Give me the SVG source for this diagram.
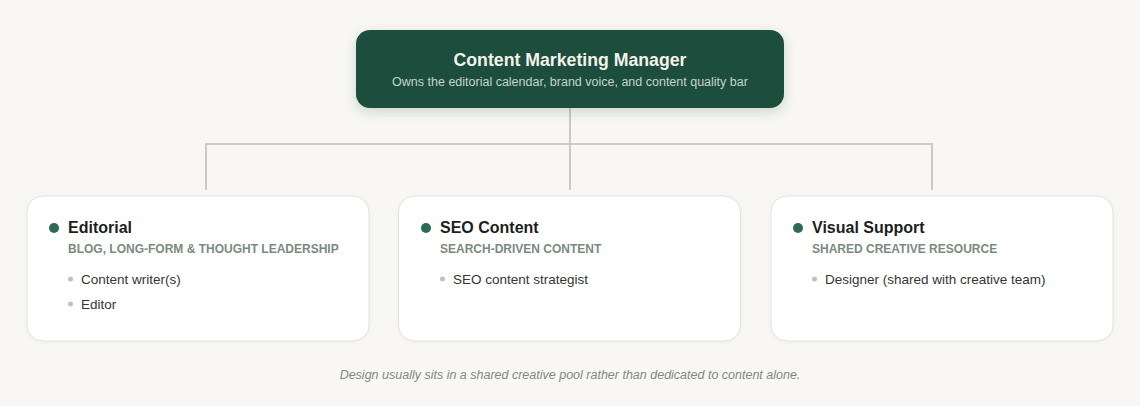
<svg xmlns="http://www.w3.org/2000/svg" width="1140" height="406" viewBox="0 0 1140 406">
<style>
.bg{fill:#f8f7f3}
.card{fill:#ffffff;stroke:#e2e2dc;stroke-width:1}
.conn{fill:none;stroke:#cacbc5;stroke-width:2}
.dot{fill:#2e6a55}
.bul{fill:#c2c2bd}
.t{font-family:"Liberation Sans",Arial,sans-serif;font-weight:bold;font-size:16px;fill:#1c1f1d}
.st{font-family:"Liberation Sans",Arial,sans-serif;font-weight:bold;font-size:12px;fill:#7b8a80}
.it{font-family:"Liberation Sans",Arial,sans-serif;font-size:13.5px;fill:#333633}
.mt{font-family:"Liberation Sans",Arial,sans-serif;font-weight:bold;font-size:17.7px;fill:#f4f2ea}
.ms{font-family:"Liberation Sans",Arial,sans-serif;font-size:12.5px;fill:#c6d4ca}
.ft{font-family:"Liberation Sans",Arial,sans-serif;font-style:italic;font-size:12.5px;fill:#808a82}
</style>
<defs>
<filter id="sh" x="-20%" y="-30%" width="140%" height="180%">
<feDropShadow dx="0" dy="4" stdDeviation="6" flood-color="#1f4d3d" flood-opacity="0.2"/>
</filter>
<filter id="csh" x="-10%" y="-10%" width="120%" height="130%">
<feDropShadow dx="0" dy="1" stdDeviation="2" flood-color="#000" flood-opacity="0.04"/>
</filter>
</defs>
<rect class="bg" x="0" y="0" width="1140" height="406"/>
<g id="connectors">
<path class="conn" d="M570 108 V144 M206 190 V144 H932 V190 M570 144 V190"/>
</g>
<g id="manager">
<rect x="356" y="30" width="428" height="78" rx="14" fill="#1f4d3d" filter="url(#sh)"/>
<text class="mt" x="570" y="66" text-anchor="middle">Content Marketing Manager</text>
<text class="ms" x="570" y="86" text-anchor="middle">Owns the editorial calendar, brand voice, and content quality bar</text>
</g>
<g id="editorial">
<rect class="card" x="27" y="196" width="342" height="145" rx="16" filter="url(#csh)"/>
<circle class="dot" cx="54" cy="228" r="5"/>
<text class="t" x="68" y="233">Editorial</text>
<text class="st" x="68" y="253">BLOG, LONG-FORM &amp; THOUGHT LEADERSHIP</text>
<circle class="bul" cx="70.5" cy="279" r="2.5"/>
<text class="it" x="81" y="284">Content writer(s)</text>
<circle class="bul" cx="70.5" cy="304" r="2.5"/>
<text class="it" x="81" y="309">Editor</text>
</g>
<g id="seo">
<rect class="card" x="398.5" y="196" width="342" height="145" rx="16" filter="url(#csh)"/>
<circle class="dot" cx="426" cy="228" r="5"/>
<text class="t" x="440" y="233">SEO Content</text>
<text class="st" x="440" y="253">SEARCH-DRIVEN CONTENT</text>
<circle class="bul" cx="442.5" cy="279" r="2.5"/>
<text class="it" x="453" y="284">SEO content strategist</text>
</g>
<g id="visual">
<rect class="card" x="771" y="196" width="342" height="145" rx="16" filter="url(#csh)"/>
<circle class="dot" cx="798" cy="228" r="5"/>
<text class="t" x="812" y="233">Visual Support</text>
<text class="st" x="812" y="253">SHARED CREATIVE RESOURCE</text>
<circle class="bul" cx="814.5" cy="279" r="2.5"/>
<text class="it" x="825" y="284">Designer (shared with creative team)</text>
</g>
<text class="ft" x="570" y="379" text-anchor="middle">Design usually sits in a shared creative pool rather than dedicated to content alone.</text>
</svg>
